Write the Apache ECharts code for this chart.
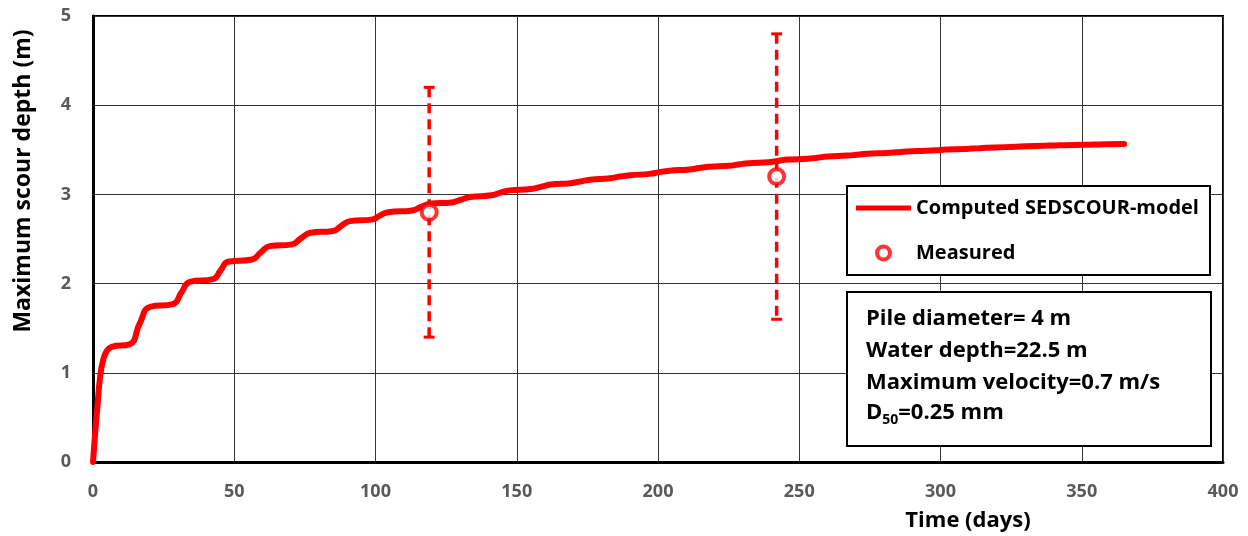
<!DOCTYPE html>
<html>
<head>
<meta charset="utf-8">
<script src="https://cdn.jsdelivr.net/npm/echarts@6/dist/echarts.min.js"></script>
<style>
html,body{margin:0;padding:0;background:#fff;}
#chart{width:1248px;height:536px;}
</style>
</head>
<body>
<div id="chart"></div>
<script>
// ---- data ----
const computedDays = [0, 0.7, 1.5, 2.5, 3.5, 4.8, 6.6, 13,
  16.5, 20.2, 28.3,
  31.3, 34.3, 42.5,
  45.2, 47.8, 56.3,
  59.4, 62.5, 70.4,
  73.7, 77, 85,
  88, 91, 99,
  101.7, 104.5, 113,
  116.2, 119.3, 127,
  130.2, 133.5, 141,
  144.2, 147.5, 155,
  158.5, 162, 169,
  172.5, 176, 183,
  186.5, 190, 197,
  200.5, 204, 211,
  214.5, 218, 225,
  228.5, 232, 239,
  242.5, 246, 253,
  256.5, 260, 267,
  270.5, 274, 281,
  284.5, 288, 295,
  298.5, 302, 309,
  312.5, 316, 323,
  326.5, 330, 337,
  340.5, 344, 351,
  354.5, 358, 365];
const computedDepth = [0, 0.3, 0.6, 0.95, 1.13, 1.24, 1.29, 1.32,
  1.55, 1.74, 1.77,
  1.9, 2.02, 2.05,
  2.15, 2.245, 2.27,
  2.35, 2.42, 2.44,
  2.51, 2.57, 2.59,
  2.65, 2.70, 2.72,
  2.765, 2.80, 2.82,
  2.86, 2.895, 2.91,
  2.94, 2.97, 2.99,
  3.02, 3.045, 3.06,
  3.085, 3.11, 3.125,
  3.145, 3.165, 3.18,
  3.20, 3.215, 3.23,
  3.25, 3.265, 3.28,
  3.295, 3.31, 3.32,
  3.335, 3.35, 3.36,
  3.375, 3.39, 3.40,
  3.412, 3.425, 3.435,
  3.445, 3.455, 3.465,
  3.472, 3.48, 3.49,
  3.496, 3.502, 3.51,
  3.516, 3.522, 3.53,
  3.535, 3.539, 3.545,
  3.549, 3.552, 3.556,
  3.559, 3.561, 3.565];

const measuredDays = [119, 242];
const measuredDepth = [2.8, 3.2];
const measuredLow = [1.4, 1.6];
const measuredHigh = [4.2, 4.8];

const xTicks = [0, 50, 100, 150, 200, 250, 300, 350, 400];
const yTicks = [0, 1, 2, 3, 4, 5];

const seriesNames = ['Computed SEDSCOUR-model', 'Measured'];
const xTitle = 'Time (days)';
const yTitle = 'Maximum scour depth (m)';
const infoLines = ['Pile diameter= 4 m', 'Water depth=22.5 m', 'Maximum velocity=0.7 m/s'];

// ---- build ----
const FONT = '"Open Sans", "Noto Sans", sans-serif';
const RED = '#ff0000';
const computedData = computedDays.map((d, i) => [d, computedDepth[i]]);
const measuredData = measuredDays.map((d, i) => [d, measuredDepth[i]]);
const errorData = measuredDays.map((d, i) => [d, measuredLow[i], measuredHigh[i]]);

const chart = echarts.init(document.getElementById('chart'), null, {renderer: 'canvas'});

const option = {
  backgroundColor: '#fff',
  animation: false,
  grid: {left: 93, right: 25, top: 16, bottom: 74, show: true, borderColor: '#000', borderWidth: 2, backgroundColor: 'transparent'},
  xAxis: {
    type: 'value', min: xTicks[0], max: xTicks[xTicks.length - 1], interval: xTicks[1] - xTicks[0],
    axisLine: {show: true, onZero: false, lineStyle: {color: '#000', width: 3}},
    axisTick: {show: false},
    splitLine: {show: true, lineStyle: {color: '#333', width: 1}},
    axisLabel: {margin: 21, color: '#595959', fontSize: 18, fontWeight: 'bold', fontFamily: FONT}
  },
  yAxis: {
    type: 'value', min: yTicks[0], max: yTicks[yTicks.length - 1], interval: yTicks[1] - yTicks[0],
    axisLine: {show: true, onZero: false, lineStyle: {color: '#000', width: 3}},
    axisTick: {show: false},
    splitLine: {show: true, lineStyle: {color: '#333', width: 1}},
    axisLabel: {margin: 22, color: '#595959', fontSize: 18, fontWeight: 'bold', fontFamily: FONT}
  },
  legend: {
    data: [
      {name: seriesNames[0], icon: 'path://M0,0 L55,0 L55,5 L0,5 Z', itemStyle: {color: RED, borderWidth: 0}},
      {name: seriesNames[1], icon: 'circle', itemStyle: {color: '#fff', borderColor: RED, borderWidth: 4}}
    ],
    orient: 'vertical',
    left: 856, top: 198,
    padding: 0,
    itemWidth: 55, itemHeight: 13, itemGap: 25,
    itemTextGap: 5,
    z: 10,
    textStyle: {color: '#000', fontSize: 20, fontWeight: 'bold', fontFamily: FONT}
  },
  graphic: [
    {type: 'rect', z: 5, shape: {x: 847, y: 186, width: 363, height: 89}, style: {fill: '#fff', stroke: '#000', lineWidth: 2}},
    {type: 'rect', z: 5, shape: {x: 847, y: 292, width: 364, height: 154}, style: {fill: '#fff', stroke: '#000', lineWidth: 2}},
    {type: 'text', z: 6, x: 866, y: 319, style: {text: infoLines[0], fill: '#000', font: 'bold 22px ' + FONT, textVerticalAlign: 'middle'}},
    {type: 'text', z: 6, x: 866, y: 351, style: {text: infoLines[1], fill: '#000', font: 'bold 22px ' + FONT, textVerticalAlign: 'middle'}},
    {type: 'text', z: 6, x: 866, y: 383, style: {text: infoLines[2], fill: '#000', font: 'bold 22px ' + FONT, textVerticalAlign: 'middle'}},
    {type: 'text', z: 6, x: 866, y: 413, style: {
      text: '{a|D}{b|50}{a|=0.25 mm}', textVerticalAlign: 'middle',
      rich: {
        a: {fill: '#000', fontSize: 22, fontWeight: 'bold', fontFamily: FONT},
        b: {fill: '#000', fontSize: 14, fontWeight: 'bold', fontFamily: FONT, padding: [14, 0, 0, 0]}
      }
    }},
    {type: 'text', z: 6, x: 23, y: 181, rotation: Math.PI / 2, style: {text: yTitle, fill: '#000', font: 'bold 23px ' + FONT, textAlign: 'center', textVerticalAlign: 'middle'}},
    {type: 'text', z: 6, x: 968, y: 521, style: {text: xTitle, fill: '#000', font: 'bold 22px ' + FONT, textAlign: 'center', textVerticalAlign: 'middle'}}
  ],
  series: [
    {
      name: seriesNames[0], type: 'line', data: computedData,
      showSymbol: false, symbol: 'none', smooth: 0.5,
      lineStyle: {color: RED, width: 6, cap: 'round', join: 'round'}, itemStyle: {color: RED}, z: 3
    },
    {
      name: 'errorbars', type: 'custom', data: errorData, z: 4,
      renderItem: function (params, api) {
        const x = api.value(0);
        const pLo = api.coord([x, api.value(1)]);
        const pHi = api.coord([x, api.value(2)]);
        const cap = 5.5;
        return {type: 'group', children: [
          {type: 'line', shape: {x1: pHi[0], y1: pHi[1], x2: pLo[0], y2: pLo[1]}, style: {stroke: RED, lineWidth: 3.5, lineDash: [10, 6]}},
          {type: 'line', shape: {x1: pHi[0] - cap, y1: pHi[1], x2: pHi[0] + cap, y2: pHi[1]}, style: {stroke: RED, lineWidth: 3}},
          {type: 'line', shape: {x1: pLo[0] - cap, y1: pLo[1], x2: pLo[0] + cap, y2: pLo[1]}, style: {stroke: RED, lineWidth: 3}}
        ]};
      }
    },
    {
      name: seriesNames[1], type: 'scatter', data: measuredData, z: 6,
      symbol: 'circle', symbolSize: 15,
      itemStyle: {color: '#fff', borderColor: RED, borderWidth: 4}
    }
  ]
};
chart.setOption(option);
</script>
</body>
</html>
